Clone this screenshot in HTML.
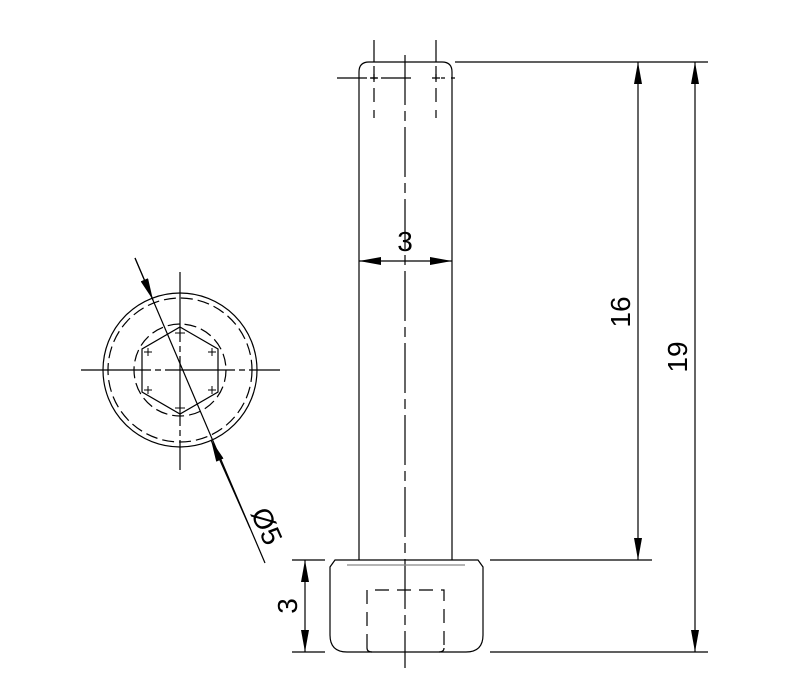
<!DOCTYPE html>
<html><head><style>html,body{margin:0;padding:0;background:#fff}svg{display:block}</style></head>
<body>
<svg width="811" height="687" viewBox="0 0 811 687" xmlns="http://www.w3.org/2000/svg" font-family="Liberation Sans, sans-serif">
<defs>
<marker id="a" viewBox="0 0 22 8" refX="22" refY="4" markerWidth="22" markerHeight="8" markerUnits="userSpaceOnUse" orient="auto"><path d="M0,0 L22,4 L0,8 Z" fill="#000"/></marker>
</defs>
<g fill="none" stroke="#000" stroke-width="1.2">
<circle cx="180" cy="370" r="77"/>
<circle cx="180" cy="370" r="72" stroke-dasharray="12,5"/>
<circle cx="180" cy="370" r="46" stroke-dasharray="12,5"/>
<path d="M180,327 L218,349 L218,392 L180,414 L142,392 L142,349 Z"/>
<line x1="81" y1="370" x2="280" y2="370" stroke-dasharray="70,4,6,4"/>
<line x1="180" y1="272" x2="180" y2="470" stroke-dasharray="70,4,6,4"/>
<path d="M175,333h10M175,408h10M144,352h8M148,348v8M208,352h8M212,348v8M144,390h8M148,386v8M208,390h8M212,386v8" stroke-width="1"/>
<line x1="135" y1="258" x2="265" y2="563"/>
<path d="M359,560 V72 Q359,62 369,62 H442 Q452,62 452,72 V560"/>
<line x1="374" y1="40" x2="374" y2="62"/><line x1="436" y1="40" x2="436" y2="62"/>
<line x1="374" y1="66" x2="374" y2="118" stroke-dasharray="14,8"/>
<line x1="436" y1="66" x2="436" y2="118" stroke-dasharray="14,8"/>
<line x1="337" y1="78" x2="474" y2="78" stroke-dasharray="30,4,6,4,30"/>
<path d="M370,78h8M374,74v8M432,78h8M436,74v8"/>
<line x1="405" y1="55" x2="405" y2="668" stroke-dasharray="50,6,10,6"/>
<path d="M335,560 H478 L483,567 V635 Q483,652 466,652 H347 Q330,652 330,635 V567 Z"/>
<line x1="347" y1="565" x2="465" y2="565" stroke="#888"/>
<path d="M367,648 V590 H444 V648" stroke-dasharray="14,8"/>
<path d="M367,648 Q367,652 372,652 M444,648 Q444,652 439,652"/>
<line x1="455" y1="62" x2="708" y2="62"/>
<line x1="490" y1="560" x2="652" y2="560"/>
<line x1="490" y1="652" x2="708" y2="652"/>
<line x1="292" y1="560" x2="325" y2="560"/>
<line x1="292" y1="652" x2="325" y2="652"/>
<line x1="405" y1="261" x2="359" y2="261" marker-end="url(#a)"/>
<line x1="405" y1="261" x2="452" y2="261" marker-end="url(#a)"/>
<line x1="638" y1="310" x2="638" y2="62" marker-end="url(#a)"/>
<line x1="638" y1="310" x2="638" y2="560" marker-end="url(#a)"/>
<line x1="695" y1="350" x2="695" y2="62" marker-end="url(#a)"/>
<line x1="695" y1="350" x2="695" y2="652" marker-end="url(#a)"/>
<line x1="305" y1="606" x2="305" y2="560" marker-end="url(#a)"/>
<line x1="305" y1="606" x2="305" y2="652" marker-end="url(#a)"/>
<line x1="135" y1="258" x2="153" y2="300" marker-end="url(#a)"/>
<line x1="250" y1="528" x2="211" y2="440" marker-end="url(#a)"/>
</g>
<g font-size="28" fill="#000" text-anchor="middle">
<text x="405" y="251">3</text>
<text transform="translate(630,312) rotate(-90)">16</text>
<text transform="translate(687,357) rotate(-90)">19</text>
<text transform="translate(297,606) rotate(-90)">3</text>
<text transform="translate(258,530) rotate(66)">Ø5</text>
</g>
</svg>
</body></html>
